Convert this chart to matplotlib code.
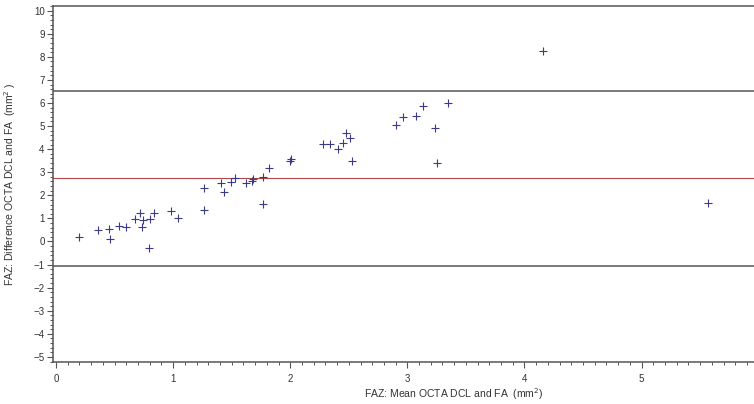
import matplotlib
matplotlib.use("Agg")
from matplotlib import pyplot as plt
from matplotlib.ticker import MultipleLocator

plt.rcParams['font.family'] = ['Liberation Sans', 'DejaVu Sans']

# mean of the two methods (mm^2)
faz_mean = [0.20, 0.36, 0.45, 0.46, 0.54, 0.60, 0.67, 0.72, 0.74, 0.73,
            0.80, 0.79, 0.84, 0.98, 1.04,
            1.26, 1.26, 1.41, 1.43, 1.49, 1.53, 1.62, 1.67, 1.68, 1.77,
            1.77, 1.82, 2.00, 2.01,
            2.28, 2.34, 2.41, 2.45, 2.48, 2.51, 2.53, 2.90, 2.96, 3.07,
            3.13, 3.24, 3.25, 3.35,
            4.16, 5.57]
# difference OCTA DCL - FA (mm^2)
faz_diff = [0.20, 0.51, 0.55, 0.12, 0.68, 0.64, 0.98, 1.24, 0.94, 0.64,
            0.98, -0.27, 1.24, 1.33, 1.03,
            1.37, 2.33, 2.54, 2.15, 2.59, 2.76, 2.55, 2.62, 2.72, 2.80,
            1.63, 3.19, 3.50, 3.58,
            4.23, 4.23, 4.02, 4.28, 4.71, 4.49, 3.50, 5.06, 5.41, 5.45,
            5.88, 4.93, 3.41, 6.01,
            8.27, 1.68]

bias = 2.75
upper_loa = 6.53
lower_loa = -1.04

fig = plt.figure(figsize=(7.54, 4.04), dpi=100)
ax = fig.add_axes([0.0703, 0.104, 0.9297, 0.881])

ax.axhline(upper_loa, color='#555555', lw=1.1, zorder=1)
ax.axhline(lower_loa, color='#555555', lw=1.1, zorder=1)
ax.axhline(bias, color='#b04a4a', lw=0.8, zorder=1)

ax.plot(faz_mean, faz_diff, linestyle='none', marker='+', markersize=5.5,
        markeredgewidth=0.8, color='#3a3a88', zorder=2)

ax.set_xlim(-0.026, 5.96)
ax.set_ylim(-5.22, 10.2)
ax.xaxis.set_major_locator(MultipleLocator(1))
ax.xaxis.set_minor_locator(MultipleLocator(0.1))
ax.yaxis.set_major_locator(MultipleLocator(1))
ax.yaxis.set_minor_locator(MultipleLocator(0.2))

ax.spines['right'].set_visible(False)
for s in ['left', 'bottom', 'top']:
    ax.spines[s].set_color('#555555')
    ax.spines[s].set_linewidth(1.1)

ax.tick_params(which='major', direction='out', length=4, width=0.8,
               color='#555555', labelsize=7, labelcolor='#333333', pad=5)
ax.tick_params(which='minor', direction='out', length=2, width=0.7,
               color='#555555')
ax.tick_params(axis='y', which='major', pad=2)

ax.set_xlabel('FAZ: Mean OCTA DCL and FA  (mm$^2$)', fontsize=7.5,
              color='#333333')
ax.xaxis.set_label_coords((454 - 53) / (754 - 53), -0.068)
ax.set_ylabel('FAZ: Difference OCTA DCL and FA  (mm$^2$ )', fontsize=7.5,
              color='#333333')
ax.yaxis.set_label_coords(-0.05, 0.5)

fig.savefig('out.png', dpi=100)
